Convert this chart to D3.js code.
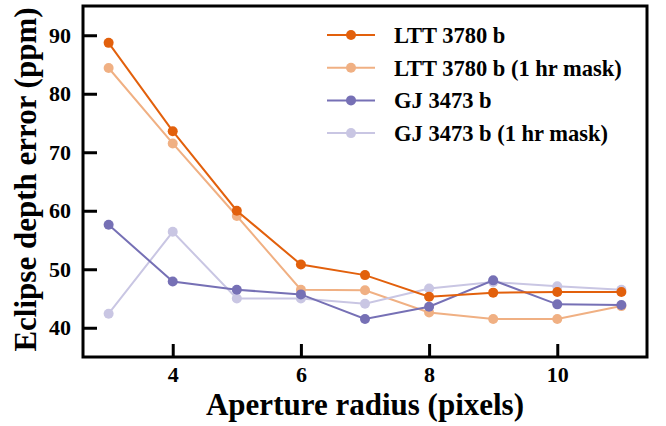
<!DOCTYPE html>
<html>
<head>
<meta charset="utf-8">
<script src="https://cdn.jsdelivr.net/npm/d3@7"></script>
<style>
  body { margin: 0; background: #fff; }
  text { font-family: "Liberation Serif", "Times New Roman", serif; font-weight: bold; fill: #000; }
</style>
</head>
<body>
<svg width="666" height="426"></svg>
<script>
const radius = [3, 4, 5, 6, 7, 8, 9, 10, 11];
const lttErr = [88.7, 73.6, 60.0, 50.8, 49.0, 45.3, 46.0, 46.1, 46.1];
const lttMaskErr = [84.4, 71.5, 59.1, 46.5, 46.4, 42.6, 41.5, 41.5, 43.7];
const gjErr = [57.6, 47.9, 46.5, 45.7, 41.5, 43.6, 48.1, 44.0, 43.9];
const gjMaskErr = [42.4, 56.4, 45.0, 45.0, 44.1, 46.7, 47.8, 47.1, 46.5];
const seriesNames = ['LTT 3780 b', 'LTT 3780 b (1 hr mask)', 'GJ 3473 b', 'GJ 3473 b (1 hr mask)'];
const seriesColors = ['#e2600c', '#f0b083', '#7670b5', '#c9c6e3'];
const xTicks = [4, 6, 8, 10];
const yTicks = [40, 50, 60, 70, 80, 90];

const svg = d3.select('svg');
const margin = {top: 6, right: 19, bottom: 69, left: 83};
const width = +svg.attr('width');
const height = +svg.attr('height');
const innerWidth = width - margin.left - margin.right;
const innerHeight = height - margin.top - margin.bottom;

const g = svg.append('g').attr('transform', `translate(${margin.left}, ${margin.top})`);

const xScale = d3.scaleLinear().domain([2.6, 11.4]).range([0, innerWidth]);
const yScale = d3.scaleLinear().domain([35, 95]).range([innerHeight, 0]);

// inward ticks, no gridlines
const xAxis = d3.axisBottom(xScale).tickValues(xTicks).tickSize(-13).tickPadding(9);
const yAxis = d3.axisLeft(yScale).tickValues(yTicks).tickSize(-14).tickPadding(12);

const xAxisG = g.append('g').attr('transform', `translate(0, ${innerHeight})`).call(xAxis);
const yAxisG = g.append('g').call(yAxis);
[xAxisG, yAxisG].forEach(a => {
  a.select('.domain').remove();
  a.selectAll('.tick line').attr('stroke', '#000').attr('stroke-width', 3);
  a.selectAll('.tick text').attr('font-size', 22).attr('font-family', '"Liberation Serif", serif').attr('font-weight', 'bold');
});

const series = [
  {name: seriesNames[1], color: seriesColors[1], values: lttMaskErr},
  {name: seriesNames[3], color: seriesColors[3], values: gjMaskErr},
  {name: seriesNames[2], color: seriesColors[2], values: gjErr},
  {name: seriesNames[0], color: seriesColors[0], values: lttErr}
];

const line = d3.line().x((d, i) => xScale(radius[i])).y(d => yScale(d));

series.forEach(s => {
  g.append('path')
    .attr('d', line(s.values))
    .attr('fill', 'none')
    .attr('stroke', s.color)
    .attr('stroke-width', 2);
  g.selectAll(null).data(s.values).join('circle')
    .attr('cx', (d, i) => xScale(radius[i]))
    .attr('cy', d => yScale(d))
    .attr('r', 5)
    .attr('fill', s.color);
});

// frame
g.append('rect')
  .attr('width', innerWidth).attr('height', innerHeight)
  .attr('fill', 'none').attr('stroke', '#000').attr('stroke-width', 3);

// legend
const legend = g.append('g').attr('transform', 'translate(244, 29)');
seriesNames.forEach((name, i) => {
  const row = legend.append('g').attr('transform', `translate(0, ${i * 32.7})`);
  row.append('line').attr('x1', 0).attr('x2', 48).attr('stroke', seriesColors[i]).attr('stroke-width', 2);
  row.append('circle').attr('cx', 24).attr('r', 5).attr('fill', seriesColors[i]);
  row.append('text').attr('x', 67).attr('dy', '0.35em').attr('font-size', 22.5).text(name);
});

// axis titles
svg.append('text')
  .attr('x', margin.left + innerWidth / 2).attr('y', 415)
  .attr('text-anchor', 'middle').attr('font-size', 31)
  .text('Aperture radius (pixels)');

svg.append('text')
  .attr('transform', `translate(36, ${margin.top + innerHeight / 2 - 2}) rotate(-90)`)
  .attr('text-anchor', 'middle').attr('font-size', 31)
  .text('Eclipse depth error (ppm)');
</script>
</body>
</html>
